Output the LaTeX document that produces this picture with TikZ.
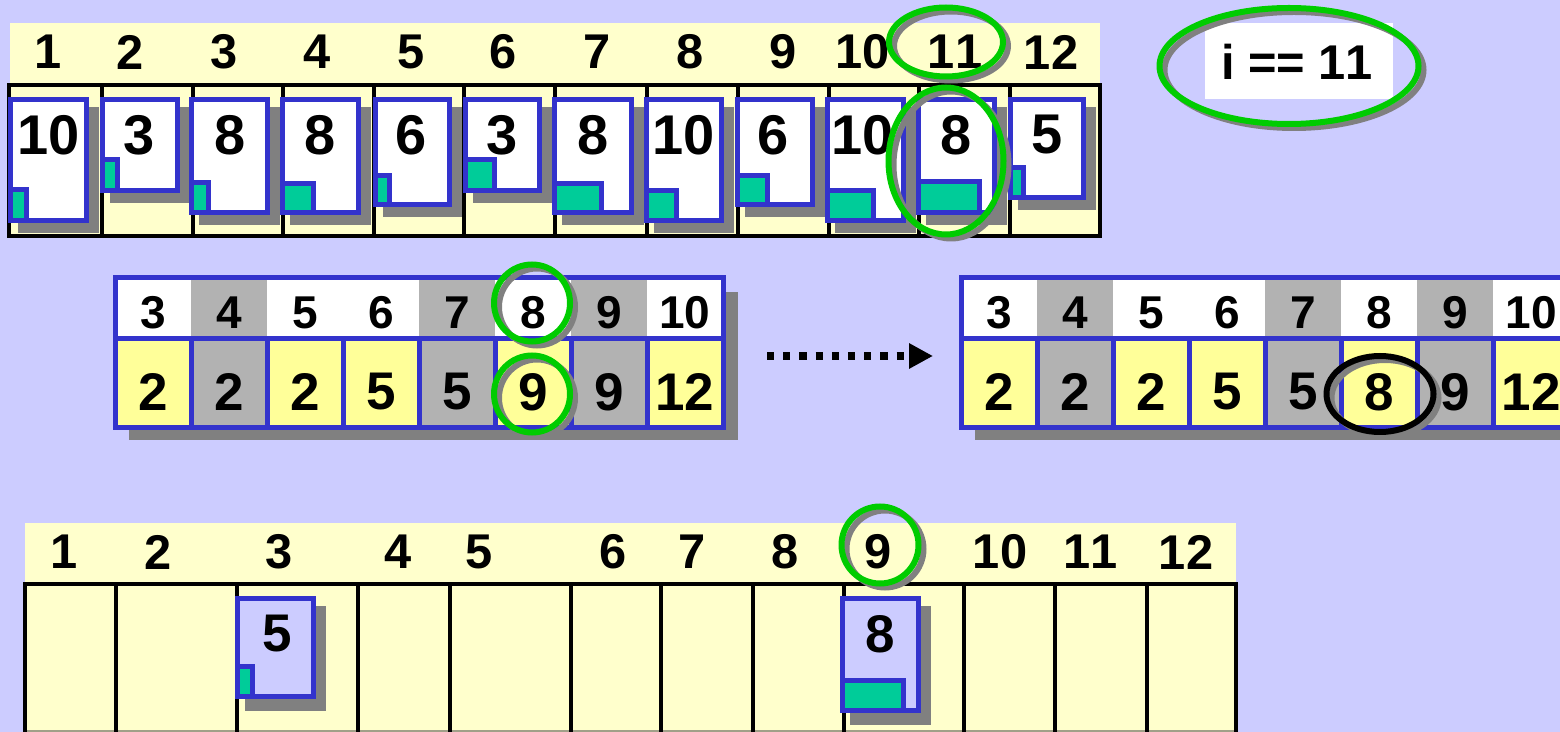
\documentclass[tikz,border=0pt]{standalone}
\usepackage{fontspec}
\setmainfont{Liberation Sans}[Kerning=Off]
\usetikzlibrary{arrows.meta,shapes.geometric}
\definecolor{bg}{HTML}{CCCCFF}
\definecolor{paleY}{HTML}{FFFFCC}
\definecolor{blu}{HTML}{3333CC}
\definecolor{tealc}{HTML}{00CC99}
\definecolor{shad}{HTML}{808080}
\definecolor{cellG}{HTML}{B2B2B2}
\definecolor{cellY}{HTML}{FFFF99}
\definecolor{grn}{HTML}{00CC00}
\definecolor{edgeol}{HTML}{A0A088}
\tikzset{
  gridline/.style={line width=2pt, draw=black},
  docbox/.style={draw=blu, line width=2.5pt, fill=white},
  docboxL/.style={draw=blu, line width=2.5pt, fill=bg},
  tealbox/.style={draw=blu, line width=2.5pt, fill=tealc},
  blueline/.style={draw=blu, line width=2.5pt},
  hdrnum/.style={font=\bfseries\fontsize{24.4}{26}\selectfont, inner sep=0pt},
  docnum/.style={font=\bfseries\fontsize{28}{30}\selectfont, inner sep=0pt},
  midhdr/.style={font=\bfseries\fontsize{23}{25}\selectfont, inner sep=0pt},
  midnum/.style={font=\bfseries\fontsize{26.5}{28}\selectfont, inner sep=0pt},
  ring/.style={ellipse, draw=grn, line width=3pt, inner sep=0pt},
  ringblack/.style={ellipse, draw=black, line width=3pt, inner sep=0pt},
  ringshadow/.style={ellipse, draw=shad, line width=3pt, inner sep=0pt},
}
\begin{document}
\begin{tikzpicture}[x=0.5pt,y=-0.5pt]
\useasboundingbox (0,0) rectangle (1560,732);
\clip (0,0) rectangle (1560,732);
\fill[bg] (0,0) rectangle (1560,732);

% ---------- top row ----------
\fill[paleY] (10,23) rectangle (1100,236);
\draw[gridline] (9,85) rectangle (1100,236);
\foreach \xd in {102,193,283,374,464,555,647,738,829,919,1010}
  \draw[gridline] (\xd,85) -- (\xd,236);
\foreach \n/\hx in {1/48,2/130,3/224,4/317,5/411,6/503,7/597,8/690,9/783,10/863,11/955,12/1051}
  \node[hdrnum] (th\n) at (\hx,52) {\n};
\foreach \n/\xa/\xb/\yb/\tx/\ty/\lab/\lx in {
  1/8/89/223/29/187/10/49, 2/100/180/193/120/157/3/139,
  3/189/270/215/211/180/8/230, 4/280/361/215/316/181/8/320,
  5/373/452/207/392/173/6/411, 6/463/542/193/497/157/3/502,
  7/552/634/215/604/181/8/593, 8/644/724/223/679/188/10/684,
  9/735/815/207/770/173/6/773, 10/825/906/223/876/188/10/863,
  11/916/997/215/982/179/8/956, 12/1008/1086/200/1026/165/5/1047}{
  \fill[shad] (\xa+10,107) rectangle (\xb+10,\yb+10);
  \draw[docbox] (\xa+2.5,99.5) rectangle (\xb-2.5,\yb-2.5);
  \draw[tealbox] (\xa+2.5,\ty+2.5) rectangle (\tx-2.5,\yb-2.5);
  \node[docnum] (doc\n) at (\lx,135) {\lab};
}
% i == 11
\fill[white] (1205,23) rectangle (1393,99);
\node[hdrnum] (cond) at (1297,62) {i == 11};
\node[ringshadow, minimum width=129.5pt, minimum height=58pt] (e3s) at (1294,70) {};
\node[ring, minimum width=129.5pt, minimum height=58pt] (e3) at (1289,66) {};
\node[ringshadow, minimum width=57pt, minimum height=34.5pt] (e1s) at (951,46) {};
\node[ring, minimum width=57pt, minimum height=34.5pt] (e1) at (946,42) {};
\node[ringshadow, minimum width=57.5pt, minimum height=73.5pt] (e2s) at (951,165) {};
\node[ring, minimum width=57.5pt, minimum height=73.5pt] (e2) at (946,161) {};

% ---------- middle tables ----------
\foreach \ox/\tag/\six in {115/L/9, 961/R/8}{
  \fill[shad] (\ox+14,292) rectangle (\ox+623,440);
  \foreach \i/\h/\hf/\b/\bfc in {0/3/white/2/cellY, 1/4/cellG/2/cellG, 2/5/white/2/cellY,
      3/6/white/5/cellY, 4/7/cellG/5/cellG, 5/8/white/\six/cellY, 6/9/cellG/9/cellG, 7/10/white/12/cellY}{
    \fill[\hf] (\ox+76*\i,278) rectangle (\ox+76+76*\i,339);
    \fill[\bfc] (\ox+76*\i,339) rectangle (\ox+76+76*\i,428);
    \node[midhdr] (h\tag\i) at (\ox+38+76*\i,313) {\h};
    \node[midnum] (b\tag\i) at (\ox+38+76*\i,392) {\b};
  }
  \draw[blueline] (\ox,278) rectangle (\ox+608,428);
  \draw[blueline] (\ox,339) -- (\ox+608,339);
  \foreach \i in {1,...,7}
    \draw[blueline] (\ox+76*\i,339) -- (\ox+76*\i,428);
}
\node[ringshadow, minimum width=38pt, minimum height=38.5pt] (e4s) at (537,307) {};
\node[ring, minimum width=38pt, minimum height=38.5pt] (e4) at (532,303) {};
\node[ringshadow, minimum width=38pt, minimum height=38.5pt] (e5s) at (537,398) {};
\node[ring, minimum width=38pt, minimum height=38.5pt] (e5) at (532,394) {};
\node[ringshadow, minimum width=53.5pt, minimum height=38pt] (e6s) at (1385,398) {};
\node[ringblack, minimum width=53.5pt, minimum height=38pt] (e6) at (1380,394) {};

\coordinate (arrS) at (767,356);
\coordinate (arrE) at (933,356);
\draw[line width=3.75pt, dash pattern=on 3.6pt off 4.5pt, -{Triangle[length=12pt,width=12pt]}] (arrS) -- (arrE);

% ---------- bottom row ----------
\fill[paleY] (25,523) rectangle (1236,740);
\draw[edgeol, line width=1pt] (25,731) -- (1236,731);
\draw[gridline] (25,740) -- (25,584) -- (1236,584) -- (1236,740);
\foreach \xd in {116,237,358,450,571,661,753,844,964,1055,1147}
  \draw[gridline] (\xd,584) -- (\xd,740);
\foreach \n/\hx in {1/64,2/158,3/279,4/398,5/479,6/613,7/692,8/785,9/878,10/1000,11/1091,12/1186}
  \node[hdrnum] (bh\n) at (\hx,552) {\n};
\foreach \n/\xa/\xb/\yb/\tx/\ty/\lab/\lx in {1/235/316/699/255/664/5/277, 2/840/921/713/906/678/8/880}{
  \fill[shad] (\xa+10,606) rectangle (\xb+10,\yb+12);
  \draw[docboxL] (\xa+2.5,598.5) rectangle (\xb-2.5,\yb-2.5);
  \draw[tealbox] (\xa+2.5,\ty+2.5) rectangle (\tx-2.5,\yb-2.5);
  \node[midnum] (bd\n) at (\lx,634) {\lab};
}
\node[ringshadow, minimum width=38.5pt, minimum height=38.5pt] (e7s) at (885,549) {};
\node[ring, minimum width=38.5pt, minimum height=38.5pt] (e7) at (880,545) {};
\end{tikzpicture}
\end{document}
